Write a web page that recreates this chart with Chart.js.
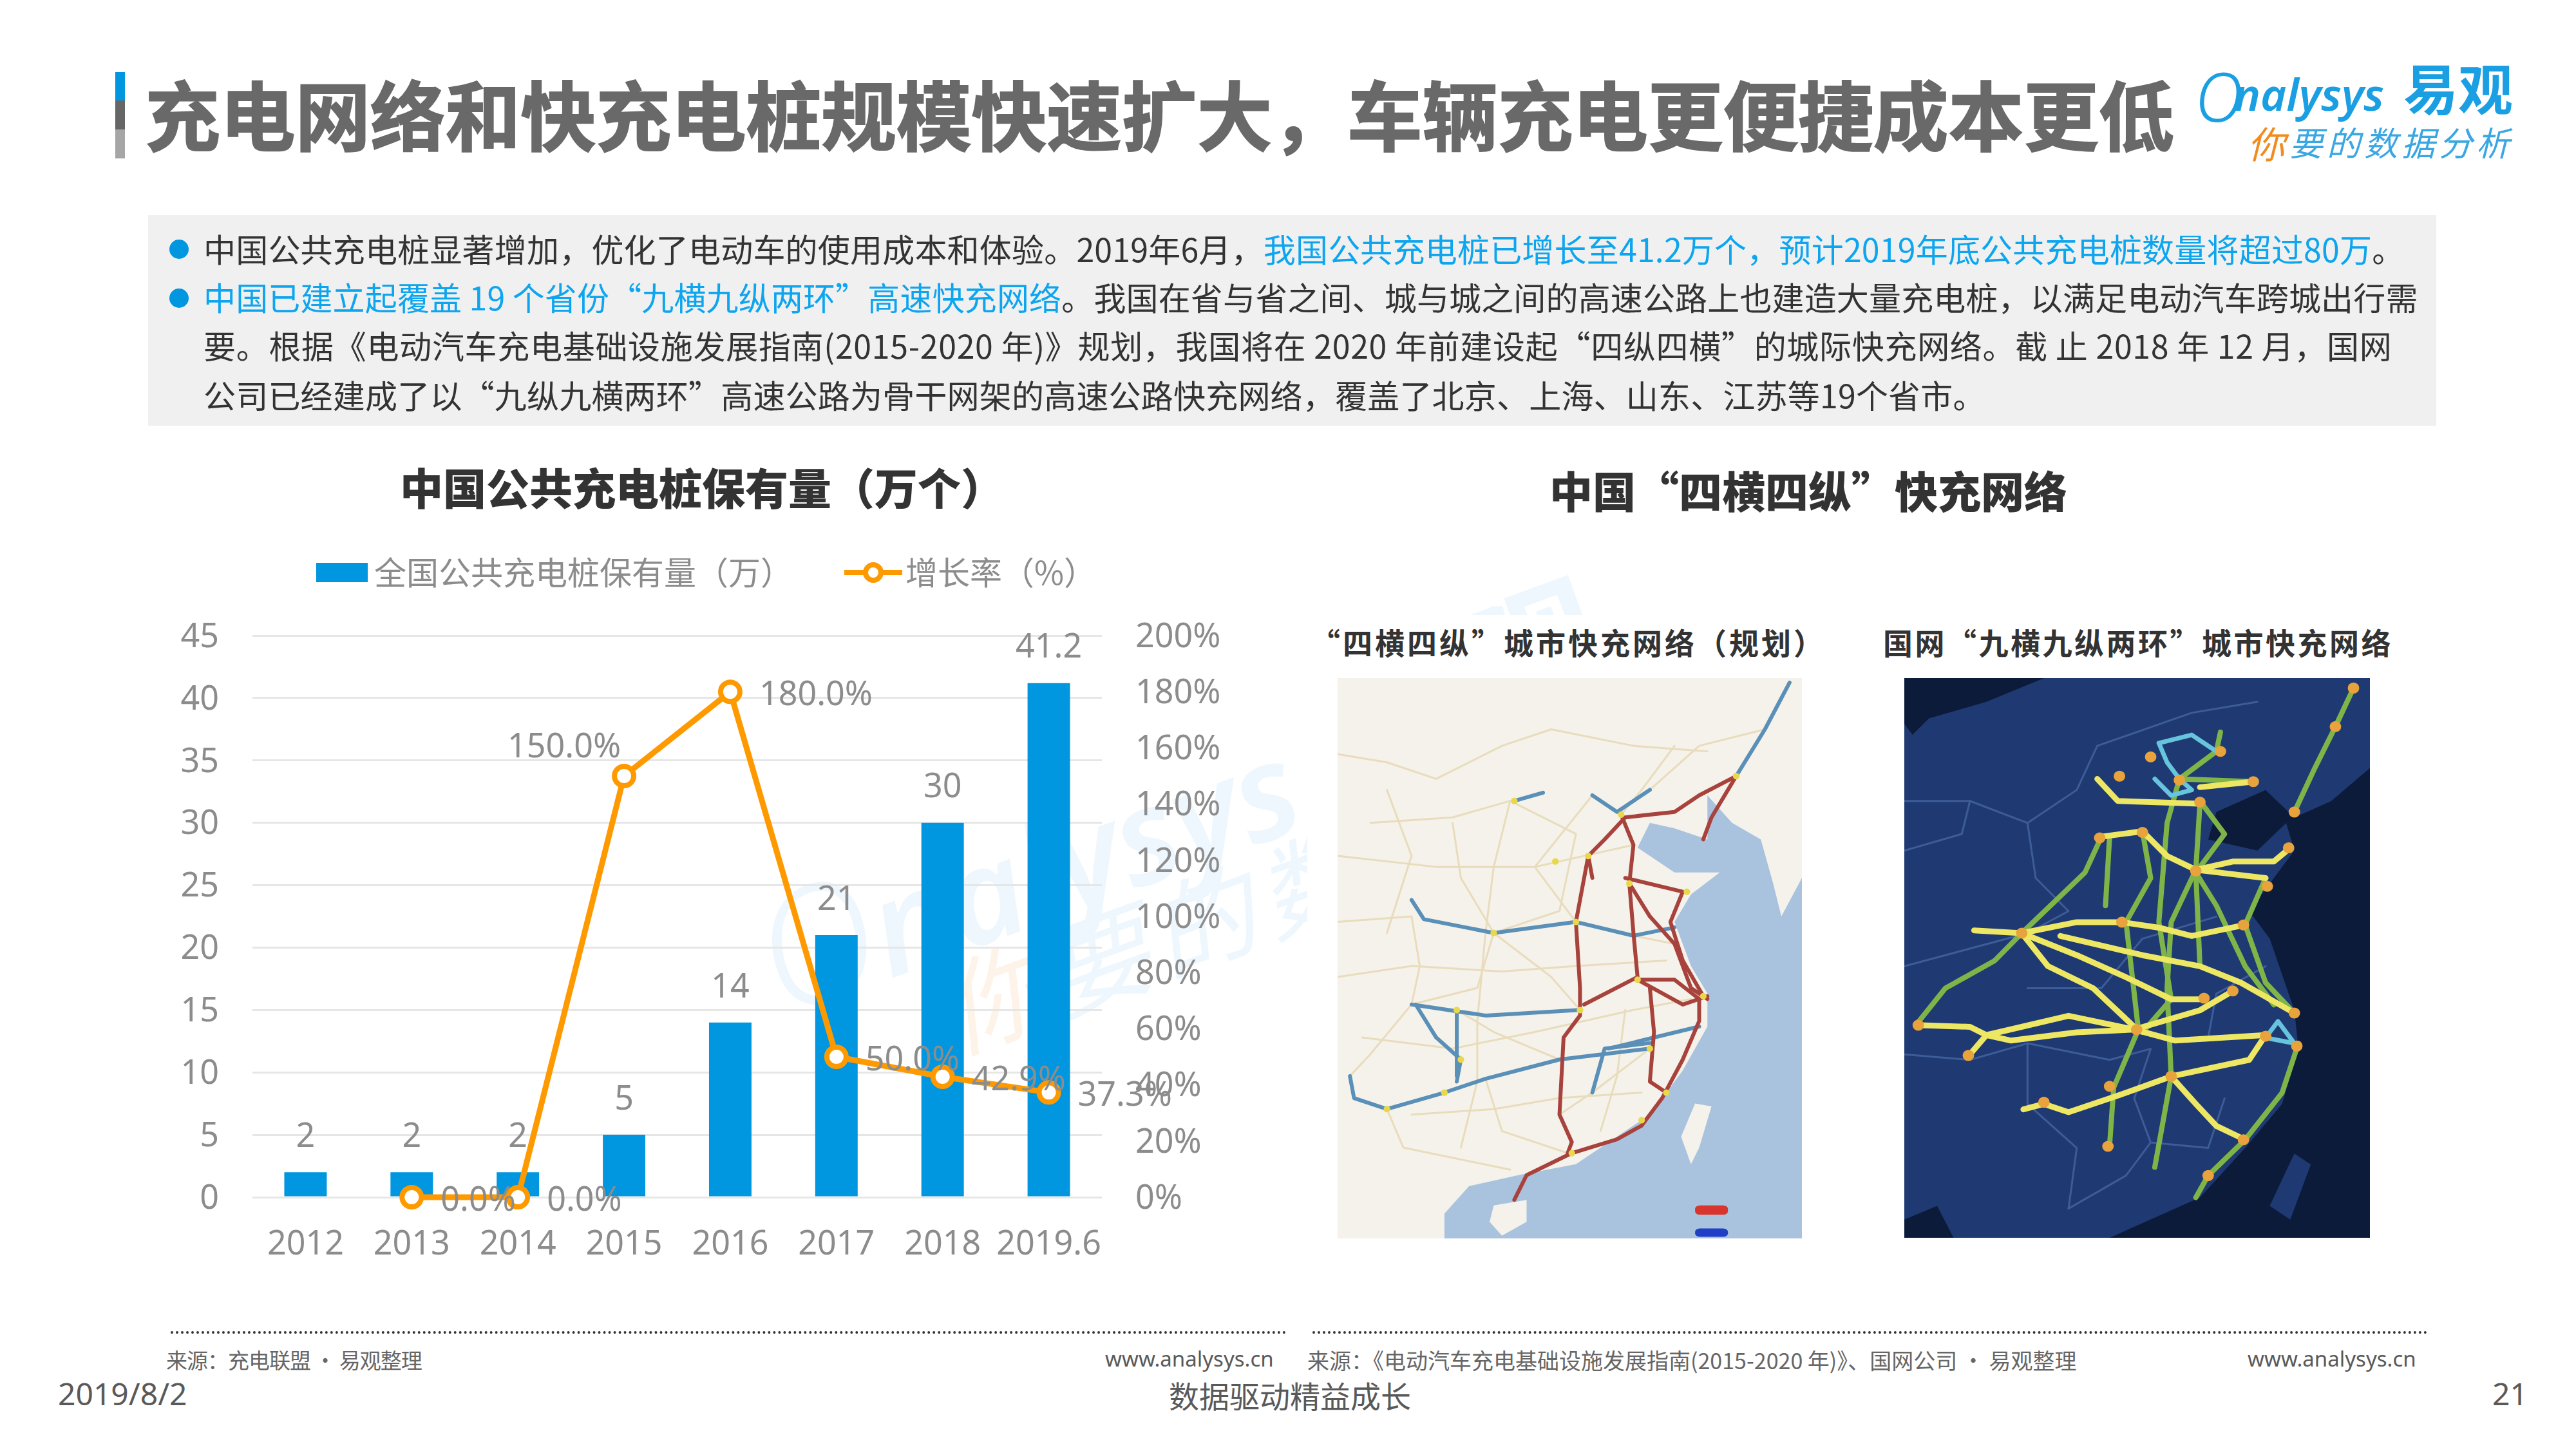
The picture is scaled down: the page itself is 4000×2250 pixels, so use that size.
<!DOCTYPE html>
<html>
<head>
<meta charset="utf-8">
<script src="https://cdn.jsdelivr.net/npm/chart.js@4/dist/chart.umd.min.js"></script>
<style>
  html, body { margin: 0; background: #fff; }
  body { position: relative; width: 4000px; height: 2250px; overflow: hidden; font-family: "Noto Sans CJK SC", "Noto Sans", sans-serif; }
  .abs { position: absolute; white-space: nowrap; line-height: 1; }
  .hl { color: #0ea5ef; }
  .line { left: 316px; font-size: 50px; color: #333; }
  .src { font-size: 33px; color: #666; }
  .foot { font-size: 48px; color: #595959; }
  .dots { position: absolute; top: 2067px; height: 0; border-top: 4px dotted #333; }
  canvas { position: absolute; }
  svg { position: absolute; }
</style>
</head>
<body>
<!-- watermark -->
<div class="abs" style="left:1180px;top:1320px;font:italic 600 205px 'Noto Sans';color:#eef7fd;transform:rotate(-20deg);transform-origin:left center"><span style="font-weight:300;font-size:250px">O</span>nalysys</div>
<div class="abs" style="left:1460px;top:1455px;font:italic 160px 'Noto Sans CJK SC';letter-spacing:15px;color:#eef7fd;transform:rotate(-20deg);transform-origin:left center"><span style="color:#fdf3e8">你</span>要的数据分析</div>
<div class="abs" style="left:2270px;top:880px;font:bold 220px 'Noto Sans CJK SC';color:#eef7fd;transform:rotate(-20deg);transform-origin:left center">观</div>
<div style="position:absolute;left:2030px;top:955px;width:1700px;height:980px;background:#fff"></div>

<!-- header -->
<div style="position:absolute;left:179px;top:112px;width:15px;height:44px;background:#0096e0"></div>
<div style="position:absolute;left:179px;top:156px;width:15px;height:45px;background:#666"></div>
<div style="position:absolute;left:179px;top:201px;width:15px;height:45px;background:#a6a6a6"></div>
<div class="abs" style="left:225px;top:117px;font-size:116.7px;font-weight:700;color:#696969;-webkit-text-stroke:2px #696969">充电网络和快充电桩规模快速扩大，车辆充电更便捷成本更低</div>
<div class="abs" style="left:3408px;top:78px;font:italic 300 104px 'Noto Sans';color:#1a9fe3">O</div>
<div class="abs" style="left:3469px;top:98px;font:italic 600 69px 'Noto Sans';color:#1a9fe3">nalysys</div>
<div class="abs" style="left:3732px;top:91px;font-size:85px;font-weight:700;color:#1a9fe3">易观</div>
<div class="abs" style="left:3490px;top:179px;font:italic 58px 'Noto Sans CJK SC';color:#f08c1e">你</div>
<div class="abs" style="left:3555px;top:182px;font:italic 52px 'Noto Sans CJK SC';color:#3aa7e3;letter-spacing:6px">要的数据分析</div>

<!-- text box -->
<div style="position:absolute;left:230px;top:334px;width:3553px;height:327px;background:#f0f0f0"></div>
<div style="position:absolute;left:263px;top:372px;width:30px;height:30px;border-radius:50%;background:#0096e0"></div>
<div style="position:absolute;left:263px;top:448px;width:30px;height:30px;border-radius:50%;background:#0096e0"></div>
<div class="abs line" style="top:360px;letter-spacing:.2px">中国公共充电桩显著增加，优化了电动车的使用成本和体验。2019年6月，<span class="hl">我国公共充电桩已增长至41.2万个，预计2019年底公共充电桩数量将超过80万</span>。</div>
<div class="abs line" style="top:435px;letter-spacing:.15px"><span class="hl">中国已建立起覆盖 19 个省份“九横九纵两环”高速快充网络</span>。我国在省与省之间、城与城之间的高速公路上也建造大量充电桩，以满足电动汽车跨城出行需</div>
<div class="abs line" style="top:510px;letter-spacing:.7px">要。根据《电动汽车充电基础设施发展指南(2015-2020 年)》规划，我国将在 2020 年前建设起“四纵四横”的城际快充网络。截 止 2018 年 12 月，国网</div>
<div class="abs line" style="top:587px;letter-spacing:.2px">公司已经建成了以“九纵九横两环”高速公路为骨干网架的高速公路快充网络，覆盖了北京、上海、山东、江苏等19个省市。</div>

<!-- panel titles -->
<div class="abs" style="left:621px;top:721px;font-size:67px;font-weight:900;color:#333">中国公共充电桩保有量（万个）</div>
<div class="abs" style="left:2406px;top:726px;font-size:67px;font-weight:900;color:#333">中国“四横四纵”快充网络</div>
<div class="abs" style="left:2035px;top:973px;font-size:46px;font-weight:700;color:#333;letter-spacing:4px">“四横四纵”城市快充网络（规划）</div>
<div class="abs" style="left:2924px;top:973px;font-size:46px;font-weight:700;color:#333;letter-spacing:3.5px">国网“九横九纵两环”城市快充网络</div>
<svg id="map1" style="left:2077px;top:1053px" width="721" height="870" viewBox="60 437 565 1018" preserveAspectRatio="none"></svg>
<svg id="map2" style="left:2957px;top:1053px" width="723" height="869" viewBox="750 437 567 1016" preserveAspectRatio="none"></svg>

<canvas id="pileChart" style="left:245px;top:764px" width="1718" height="1205"></canvas>

<!-- footer -->
<div class="dots" style="left:265px;width:1733px"></div>
<div class="dots" style="left:2038px;width:1732px"></div>
<div class="abs src" style="left:258px;top:2095px;letter-spacing:-1px">来源：充电联盟 · 易观整理</div>
<div class="abs src" style="left:1716px;top:2093px;color:#595959;font-family:'Noto Sans'">www.analysys.cn</div>
<div class="abs src" style="left:2030px;top:2095px;font-size:34px">来源：《电动汽车充电基础设施发展指南(2015-2020 年)》、国网公司 · 易观整理</div>
<div class="abs src" style="left:3490px;top:2093px;color:#595959;font-family:'Noto Sans'">www.analysys.cn</div>
<div class="abs foot" style="left:90px;top:2140px;font-family:'Noto Sans'">2019/8/2</div>
<div class="abs foot" style="left:1815px;top:2142px;font-size:47px">数据驱动精益成长</div>
<div class="abs foot" style="left:3870px;top:2140px;font-family:'Noto Sans'">21</div>

<script>
// chart data
const years = ['2012', '2013', '2014', '2015', '2016', '2017', '2018', '2019.6'];
const pileCounts = [2, 2, 2, 5, 14, 21, 30, 41.2];
const growthRates = [null, 0, 0, 150, 180, 50, 42.9, 37.3];
const barName = '全国公共充电桩保有量（万）';
const lineName = '增长率（%）';

// map sketches (illustrations, not chart data)
const map1Coast = [[625,800],[600,870],[590,810],[575,730],[540,700],[510,650],[510,730],[470,710],[440,700],[425,745],[470,790],[525,790],[490,830],[470,880],[490,960],[510,1010],[510,1070],[480,1150],[440,1230],[390,1280],[350,1320],[280,1340],[220,1360],[190,1410],[190,1455],[625,1455]];
const map1Isles = [[[495,1210],[515,1215],[500,1290],[490,1320],[478,1270]], [[250,1395],[290,1385],[290,1425],[260,1450],[245,1425]]];
const map1Roads = [
  [[60,575],[120,590],[180,620],[260,560],[320,530],[420,560],[510,570]],
  [[100,700],[200,690],[270,660],[350,720],[330,860],[250,900],[230,1000],[150,1030]],
  [[200,700],[210,800],[250,900],[320,980],[355,1040]],
  [[60,880],[150,870],[160,960],[150,1030],[100,1120],[75,1160]],
  [[240,1165],[260,1260],[340,1300]],
  [[120,1220],[140,1290],[270,1330]],
  [[440,640],[500,560],[580,530]],
  [[330,1130],[250,1080],[205,1040]],
  [[470,920],[420,905],[350,880],[300,780],[370,650]],
  [[440,1110],[370,1190],[330,1230]],
  [[60,760],[180,780],[300,780],[420,740]],
  [[60,980],[150,960],[260,970],[350,960],[460,950]],
  [[90,1090],[200,1110],[300,1080],[420,1040],[490,1020]],
  [[150,1230],[250,1220],[330,1200],[430,1190]],
  [[270,660],[250,780],[240,900],[230,1060],[230,1170],[210,1290]],
  [[470,560],[430,640],[405,685]],
  [[120,640],[150,760],[120,900]],
  [[410,1040],[400,1160],[380,1260]]
];
const map1Red = [
  [[545,615],[500,650],[470,680],[410,690],[385,730],[365,760],[370,800]],
  [[405,685],[420,740],[415,810],[440,870],[470,920],[490,1000],[510,1020]],
  [[365,760],[350,880],[355,1000],[355,1050],[335,1090],[330,1230],[345,1280],[340,1300]],
  [[410,800],[480,825],[465,880],[480,950],[505,1015]],
  [[545,615],[515,690],[505,730]],
  [[415,810],[420,900],[425,980],[360,1030]],
  [[425,985],[470,985],[500,1020],[500,1060],[480,1130],[455,1200],[430,1250],[400,1275],[345,1300]],
  [[440,1000],[445,1080],[440,1170],[460,1190]],
  [[345,1300],[290,1340],[275,1385]],
  [[425,985],[480,1030],[510,1015]]
];
const map1Blue = [
  [[610,445],[580,530],[545,615]],
  [[275,660],[310,645]],
  [[370,650],[400,680],[440,640]],
  [[150,840],[165,875],[250,900],[350,880],[420,905],[470,890]],
  [[150,1030],[240,1050],[355,1040]],
  [[155,1030],[180,1090],[210,1130],[205,1170]],
  [[205,1040],[205,1160]],
  [[75,1160],[80,1200],[120,1220],[190,1190],[240,1165],[330,1130],[440,1110]],
  [[370,1190],[385,1110],[440,1100]],
  [[390,1110],[500,1070]]
];
const map1Nodes = [[545,615],[405,685],[365,760],[415,810],[485,825],[350,880],[250,900],[425,985],[505,1015],[355,1040],[205,1040],[210,1130],[120,1220],[440,1110],[345,1300],[275,660],[325,770],[190,1190],[460,1190],[430,1240]];
const map2Sea = [[1317,600],[1270,660],[1225,690],[1190,640],[1130,680],[1120,730],[1180,750],[1215,700],[1225,750],[1200,800],[1170,860],[1195,910],[1225,1040],[1230,1110],[1210,1210],[1165,1290],[1110,1380],[1000,1453],[1317,1453]];
const map2Dark = [[[750,437],[920,437],[850,480],[780,510],[760,540],[750,520]], [[750,1420],[790,1395],[810,1453],[750,1453]]];
const map2Taiwan = [[1225,1300],[1245,1320],[1220,1420],[1195,1395]];
const map2Borders = [
  [[750,660],[830,660],[820,720],[750,750]],
  [[830,660],[900,700],[960,640],[985,560],[1100,500],[1180,480]],
  [[900,700],[910,800],[950,860],[900,900],[800,940],[750,960]],
  [[750,1120],[830,1130],[900,1100],[900,1210],[960,1290],[950,1400]],
  [[900,1100],[1000,1130],[1050,1110],[1030,1200]],
  [[1030,1200],[1050,1280],[1120,1290],[1140,1200]],
  [[1050,1280],[1020,1340],[950,1400]],
  [[1130,870],[1040,910],[990,1000],[900,1000]],
  [[1120,1090],[1130,1010],[1190,960]]
];
const map2Yellow = [
  [[835,895],[893,900],[960,880],[1015,880],[1060,890],[1100,905],[1165,885]],
  [[893,900],[960,940],[1020,980],[1075,1020],[1110,1020]],
  [[893,900],[925,960],[980,1000],[1030,1070]],
  [[940,905],[1040,940],[1110,960],[1160,990],[1225,1045]],
  [[765,1067],[830,1070],[850,1085],[950,1050],[1030,1075],[1110,1040],[1150,1005]],
  [[830,1120],[850,1085],[880,1095],[960,1080],[1030,1075],[1080,1095],[1190,1085]],
  [[1190,1085],[1170,1130],[1075,1160],[1010,1195],[950,1225],[920,1210],[895,1220]],
  [[1075,1160],[1105,1210],[1130,1250],[1165,1275]],
  [[985,620],[1010,660],[1110,665]],
  [[990,725],[1040,715],[1070,760],[1105,785],[1190,800]],
  [[1175,625],[1110,635]],
  [[1105,785],[1150,770],[1200,770],[1220,745]]
];
const map2Green = [
  [[1297,455],[1275,525],[1250,600],[1225,680]],
  [[1135,535],[1130,570],[1085,620]],
  [[1085,620],[1070,700],[1060,880],[1075,1020],[1040,1080]],
  [[1040,715],[1050,800],[1020,880],[1035,1075],[1005,1180],[1000,1285]],
  [[1110,665],[1105,785],[1075,880],[1070,1000],[1075,1160],[1055,1325]],
  [[1110,660],[1140,720],[1105,790],[1110,960]],
  [[990,725],[970,790],[893,900],[860,950],[800,1000],[765,1065]],
  [[1000,725],[995,850]],
  [[1105,790],[1130,850],[1165,960],[1200,1030]],
  [[1190,800],[1165,885],[1190,990],[1225,1045]],
  [[1230,1100],[1210,1190],[1165,1275],[1120,1340],[1105,1380]],
  [[1085,620],[1175,625]]
];
const map2Cyan = [
  [[1060,555],[1100,540],[1130,570]],
  [[1060,555],[1070,590],[1085,620],[1100,640],[1075,650],[1055,620]],
  [[1190,1090],[1205,1060],[1225,1100],[1190,1090]]
];
const map2Nodes = [[1297,455],[1275,525],[1225,680],[1135,570],[1050,580],[1012,615],[1085,622],[1175,625],[1110,662],[988,727],[1040,717],[1218,745],[1105,787],[1192,815],[893,900],[1015,880],[1163,885],[1115,1018],[1150,1005],[1225,1045],[1033,1075],[1190,1087],[1228,1105],[767,1067],[828,1122],[1075,1160],[1000,1178],[920,1207],[998,1287],[1163,1275],[1120,1340]];

function addShape(svg, tag, attrs) {
  const el = document.createElementNS('http://www.w3.org/2000/svg', tag);
  for (const k in attrs) el.setAttribute(k, attrs[k]);
  svg.appendChild(el);
}
function addPoly(svg, pts, fill) {
  addShape(svg, 'polygon', { points: pts.join(' '), fill: fill });
}
function addRoutes(svg, routes, color, width) {
  routes.forEach(r => addShape(svg, 'polyline', {
    points: r.join(' '), fill: 'none', stroke: color, 'stroke-width': width,
    'stroke-linejoin': 'round', 'stroke-linecap': 'round', 'vector-effect': 'non-scaling-stroke'
  }));
}

const map1 = document.getElementById('map1');
addShape(map1, 'rect', { x: 60, y: 437, width: 565, height: 1018, fill: '#f4f2ea' });
addPoly(map1, map1Coast, '#a9c3df');
map1Isles.forEach(p => addPoly(map1, p, '#f4f2ea'));
addRoutes(map1, map1Roads, '#e9dcbc', 3);
addRoutes(map1, map1Blue, '#5a8fb8', 6);
addRoutes(map1, map1Red, '#a8423c', 6);
map1Nodes.forEach(n => addShape(map1, 'ellipse', { cx: n[0], cy: n[1], rx: 4, ry: 6, fill: '#e8d84a' }));
addShape(map1, 'rect', { x: 495, y: 1395, width: 40, height: 17, rx: 6, fill: '#d8352c' });
addShape(map1, 'rect', { x: 495, y: 1437, width: 40, height: 15, rx: 6, fill: '#1f3fc4' });

const map2 = document.getElementById('map2');
addShape(map2, 'rect', { x: 750, y: 437, width: 567, height: 1016, fill: '#1f3a72' });
addPoly(map2, map2Sea, '#0c1b3a');
map2Dark.forEach(p => addPoly(map2, p, '#0c1b3a'));
addPoly(map2, map2Taiwan, '#1f3a72');
addRoutes(map2, map2Borders, '#3d5c98', 3);
addRoutes(map2, map2Green, '#7fb548', 8);
addRoutes(map2, map2Yellow, '#eee764', 9);
addRoutes(map2, map2Cyan, '#66c4dc', 7);
map2Nodes.forEach(n => addShape(map2, 'ellipse', { cx: n[0], cy: n[1], rx: 7, ry: 10, fill: '#e8a33c' }));

// legend swatches
function barSwatch() {
  const c = document.createElement('canvas');
  c.width = 80; c.height = 30;
  const g = c.getContext('2d');
  g.fillStyle = '#0096e0';
  g.fillRect(0, 0, 80, 30);
  return c;
}
function lineSwatch() {
  const c = document.createElement('canvas');
  c.width = 90; c.height = 40;
  const g = c.getContext('2d');
  g.strokeStyle = '#ff9900';
  g.lineWidth = 8;
  g.beginPath(); g.moveTo(0, 20); g.lineTo(90, 20); g.stroke();
  g.fillStyle = '#fff';
  g.beginPath(); g.arc(45, 20, 12, 0, Math.PI * 2); g.fill(); g.stroke();
  return c;
}

const grey = '#8c8c8c';
const labelFont = '52px "Noto Sans", "Noto Sans CJK SC"';

// value labels, read through the library's own element positions
const valueLabels = {
  id: 'valueLabels',
  afterDatasetsDraw(chart) {
    const ctx = chart.ctx;
    ctx.save();
    ctx.font = labelFont;
    ctx.fillStyle = grey;
    ctx.textBaseline = 'middle';
    chart.getDatasetMeta(0).data.forEach((el, i) => {
      ctx.textAlign = 'center';
      ctx.fillText(String(pileCounts[i]), el.x, el.y - 54);
    });
    chart.getDatasetMeta(1).data.forEach((el, i) => {
      const v = growthRates[i];
      if (v === null) return;
      const text = v.toFixed(1) + '%';
      if (v === 150) {
        ctx.textAlign = 'center';
        ctx.fillText(text, el.x - 93, el.y - 44);
      } else {
        ctx.textAlign = 'left';
        ctx.fillText(text, el.x + 45, el.y + 6);
      }
    });
    ctx.restore();
  }
};

new Chart(document.getElementById('pileChart'), {
  data: {
    labels: years,
    datasets: [
      { type: 'bar', label: barName, data: pileCounts, yAxisID: 'y', backgroundColor: '#0096e0', order: 2, categoryPercentage: 1, barPercentage: 0.4 },
      { type: 'line', label: lineName, data: growthRates, yAxisID: 'y2', borderColor: '#ff9900', borderWidth: 9, tension: 0, clip: false, pointRadius: 15, pointHoverRadius: 15, pointBorderWidth: 8, pointBackgroundColor: '#fff', pointBorderColor: '#ff9900', order: 1 }
    ]
  },
  options: {
    responsive: false,
    animation: false,
    devicePixelRatio: 1,
    plugins: {
      // blank title used as a spacer between the legend and the plot
      title: { display: true, text: ' ', weight: 500, font: { size: 1, lineHeight: 1 }, padding: { top: 0, bottom: 62 } },
      legend: {
        display: true,
        position: 'top',
        labels: {
          usePointStyle: true,
          pointStyleWidth: 50,
          padding: 100,
          color: grey,
          font: { family: '"Noto Sans CJK SC"', size: 50 },
          sort: (a, b) => a.datasetIndex - b.datasetIndex,
          generateLabels(chart) {
            return Chart.defaults.plugins.legend.labels.generateLabels(chart).map(item => {
              item.pointStyle = item.datasetIndex === 0 ? barSwatch() : lineSwatch();
              return item;
            });
          }
        }
      },
      tooltip: { enabled: false }
    },
    scales: {
      x: {
        grid: { display: false },
        border: { display: false },
        ticks: { color: grey, font: { family: '"Noto Sans"', size: 52 }, padding: 35, maxRotation: 0, autoSkip: false },
        afterFit(s) { s.height = 110; }
      },
      y: {
        position: 'left',
        min: 0, max: 45,
        grid: { color: '#e6e6e6', lineWidth: 3, drawTicks: false },
        border: { display: false },
        ticks: { stepSize: 5, color: grey, font: { family: '"Noto Sans"', size: 52 }, padding: 52, labelOffset: 3 },
        afterFit(s) { s.width = 147; }
      },
      y2: {
        position: 'right',
        min: 0, max: 200,
        grid: { display: false, drawTicks: false },
        border: { display: false },
        ticks: { stepSize: 20, color: grey, font: { family: '"Noto Sans"', size: 52 }, padding: 52, labelOffset: 3, callback: v => v + '%' },
        afterFit(s) { s.width = 252; }
      }
    }
  },
  plugins: [valueLabels]
});
</script>
</body>
</html>
